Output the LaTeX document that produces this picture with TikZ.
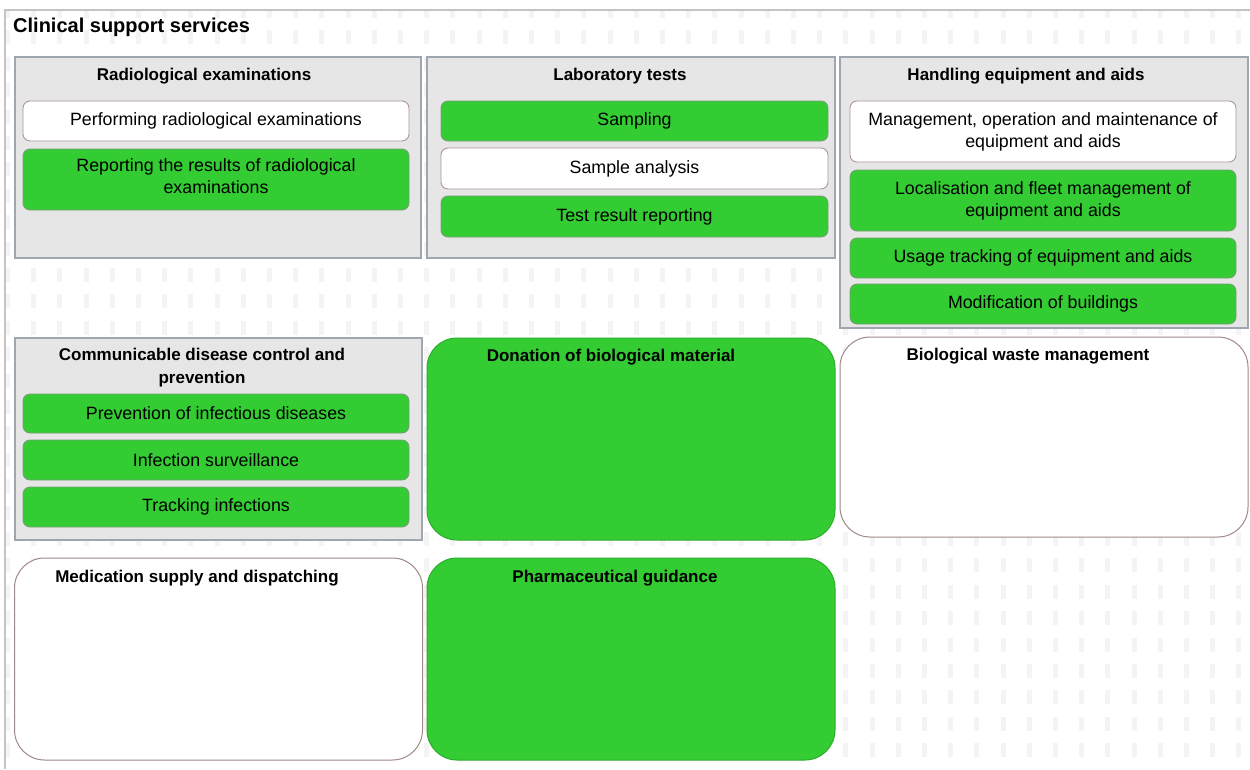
\documentclass[tikz,border=0pt]{standalone}
\usepackage{fontspec}
\setmainfont{Liberation Sans}
\definecolor{leaf}{RGB}{51,204,51}
\definecolor{leafline}{RGB}{120,160,120}
\definecolor{paleline}{RGB}{172,150,150}
\definecolor{bigline}{RGB}{160,135,135}
\definecolor{grpfill}{RGB}{230,230,230}
\definecolor{grpline}{RGB}{158,166,176}
\definecolor{framecol}{RGB}{196,196,196}
\definecolor{dotcol}{RGB}{244,244,244}
\newcommand\fitem{\fontsize{17.8}{22}\selectfont}
\newcommand\fgroup{\fontsize{17}{23}\selectfont\bfseries}
\newcommand\fmain{\fontsize{20}{24}\selectfont\bfseries}
\begin{document}
\begin{tikzpicture}[x=1pt,y=-1pt,
  group/.style={draw=grpline, line width=1.4, fill=grpfill, inner sep=0pt},
  item/.style={rounded corners=7, line width=0.9, minimum width=386, minimum height=40,
    inner sep=0pt, align=center, font=\fitem},
  greenitem/.style={item, fill=leaf, draw=leafline},
  whiteitem/.style={item, fill=white, draw=paleline},
  bigbox/.style={rounded corners=30, line width=1, inner sep=0pt, minimum width=408, minimum height=202},
  greenbig/.style={bigbox, fill=leaf, draw=leaf!85!black},
  whitebig/.style={bigbox, fill=white, draw=bigline},
  gtitle/.style={inner sep=0pt, align=center, font=\fgroup}
]
\useasboundingbox (0,0) rectangle (1250,769);

% dotted background pattern
\begin{scope}
  \clip (5,10) rectangle (1250,769);
  \foreach \i in {0,...,47}
    \foreach \j in {0,...,28}
      \fill[dotcol] ({5+26.2*\i},{4+26.4*\j}) rectangle ++(5,14);
\end{scope}

% outer frame
\coordinate (frTR) at (1250,10);
\coordinate (frTL) at (5,10);
\coordinate (frBL) at (5,769);
\draw[framecol, line width=1.3] (frTR) -- (frTL) -- (frBL);

\node[anchor=west, inner sep=0pt, font=\fmain] (main) at (13,27) {Clinical support services};

% group panels
\node[group, minimum width=406, minimum height=201] (radio) at (218,157.5) {};
\node[group, minimum width=408, minimum height=201] (lab) at (631,157.5) {};
\node[group, minimum width=408, minimum height=271] (equip) at (1044,192.5) {};
\node[group, minimum width=407, minimum height=202] (comm) at (218.5,439) {};

% large rounded boxes
\node[greenbig] (donation) at (631,439) {};
\node[whitebig, minimum height=200] (waste) at (1044,437) {};
\node[whitebig] (medication) at (218.5,659) {};
\node[greenbig] (pharma) at (631,659) {};

% panel titles
\node[gtitle] (radioT) at (204,76) {Radiological examinations};
\node[gtitle] (labT) at (620,76) {Laboratory tests};
\node[gtitle] (equipT) at (1026,76) {Handling equipment and aids};
\node[gtitle] (commT) at (202,368) {Communicable disease control and\\prevention};
\node[gtitle] (donationT) at (611,357) {Donation of biological material};
\node[gtitle] (wasteT) at (1028,356) {Biological waste management};
\node[gtitle] (medicationT) at (197,578) {Medication supply and dispatching};
\node[gtitle] (pharmaT) at (615,578) {Pharmaceutical guidance};

% radiological examinations
\node[whiteitem] (r1) at (216,121) {Performing radiological examinations};
\node[greenitem, minimum height=61] (r2) at (216,179.5) {};
\node[inner sep=0pt, align=center, font=\fitem] (r2t) at ([yshift=3]r2.center) {Reporting the results of radiological\\examinations};

% laboratory tests
\node[greenitem, minimum width=387] (l1) at (634.5,121) {Sampling};
\node[whiteitem, minimum width=387, minimum height=41] (l2) at (634.5,168.5) {Sample analysis};
\node[greenitem, minimum width=387, minimum height=41] (l3) at (634.5,216.5) {Test result reporting};

% handling equipment and aids
\node[whiteitem, minimum height=61] (e1) at (1043,131.5) {Management, operation and maintenance of\\equipment and aids};
\node[greenitem, minimum height=61] (e2) at (1043,200.5) {Localisation and fleet management of\\equipment and aids};
\node[greenitem] (e3) at (1043,258) {Usage tracking of equipment and aids};
\node[greenitem] (e4) at (1043,304) {Modification of buildings};

% communicable disease control
\node[greenitem, minimum height=39] (c1) at (216,413.5) {Prevention of infectious diseases};
\node[greenitem] (c2) at (216,460) {Infection surveillance};
\node[greenitem] (c3) at (216,507) {Tracking infections};
\end{tikzpicture}
\end{document}
